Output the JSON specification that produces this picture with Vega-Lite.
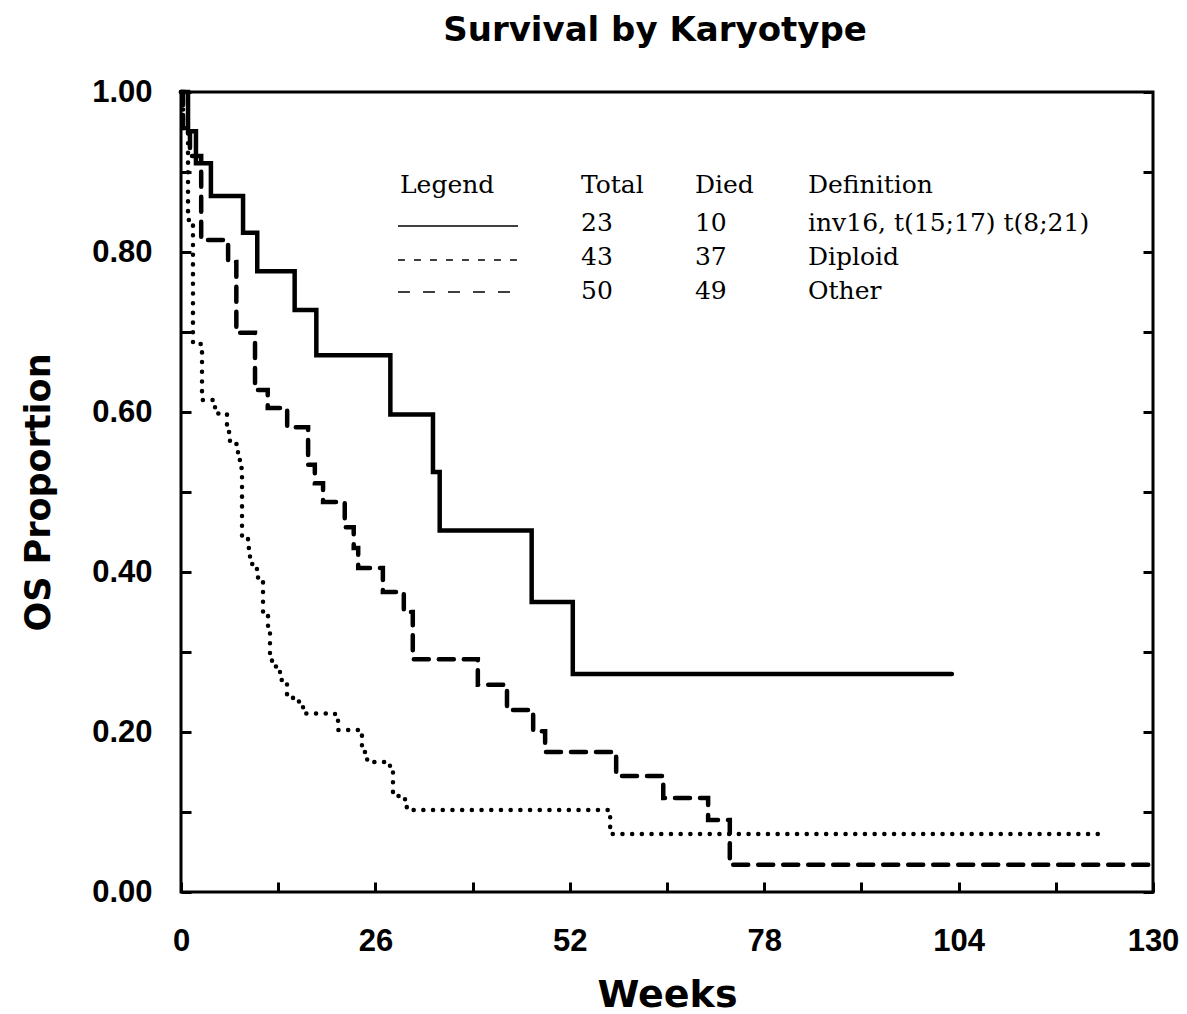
{
  "$schema": "https://vega.github.io/schema/vega-lite/v6.json",
  "width": 972,
  "height": 800,
  "autosize": {"type": "none"},
  "padding": {"left": 181, "top": 92, "right": 34, "bottom": 122},
  "background": "white",
  "title": {
    "text": "Survival by Karyotype",
    "font": "DejaVu Sans",
    "fontWeight": "bold",
    "fontSize": 34,
    "color": "black",
    "anchor": "middle",
    "offset": 28,
    "dx": -12
  },
  "config": {
    "view": {"stroke": "black", "strokeWidth": 3},
    "axis": {
      "grid": false,
      "domain": false,
      "tickColor": "black",
      "tickWidth": 3,
      "labelColor": "black",
      "titleColor": "black",
      "labelFont": "Liberation Sans",
      "labelFontWeight": "bold",
      "labelFontSize": 31,
      "titleFont": "DejaVu Sans",
      "titleFontWeight": "bold"
    },
    "text": {"font": "DejaVu Serif", "fontSize": 25, "color": "black", "align": "left", "baseline": "alphabetic"}
  },
  "datasets": {
    "survival": [
      {"group": "inv16, t(15;17) t(8;21)", "week": 0, "surv": 1.0},
      {"group": "inv16, t(15;17) t(8;21)", "week": 0.94, "surv": 0.951},
      {"group": "inv16, t(15;17) t(8;21)", "week": 2.0, "surv": 0.911},
      {"group": "inv16, t(15;17) t(8;21)", "week": 4.0, "surv": 0.87},
      {"group": "inv16, t(15;17) t(8;21)", "week": 8.3, "surv": 0.824},
      {"group": "inv16, t(15;17) t(8;21)", "week": 10.2, "surv": 0.776},
      {"group": "inv16, t(15;17) t(8;21)", "week": 15.2, "surv": 0.7275},
      {"group": "inv16, t(15;17) t(8;21)", "week": 18.1, "surv": 0.671},
      {"group": "inv16, t(15;17) t(8;21)", "week": 28.0, "surv": 0.597},
      {"group": "inv16, t(15;17) t(8;21)", "week": 33.7, "surv": 0.525},
      {"group": "inv16, t(15;17) t(8;21)", "week": 34.6, "surv": 0.452},
      {"group": "inv16, t(15;17) t(8;21)", "week": 46.9, "surv": 0.3625},
      {"group": "inv16, t(15;17) t(8;21)", "week": 52.4, "surv": 0.2725},
      {"group": "inv16, t(15;17) t(8;21)", "week": 103.1, "surv": 0.2725},

      {"group": "Diploid", "week": 0, "surv": 1.0},
      {"group": "Diploid", "week": 0.27, "surv": 0.955},
      {"group": "Diploid", "week": 0.94, "surv": 0.84},
      {"group": "Diploid", "week": 1.6, "surv": 0.685},
      {"group": "Diploid", "week": 2.81, "surv": 0.615},
      {"group": "Diploid", "week": 4.55, "surv": 0.598},
      {"group": "Diploid", "week": 6.15, "surv": 0.575},
      {"group": "Diploid", "week": 6.55, "surv": 0.56},
      {"group": "Diploid", "week": 7.62, "surv": 0.54},
      {"group": "Diploid", "week": 7.89, "surv": 0.53},
      {"group": "Diploid", "week": 8.16, "surv": 0.445},
      {"group": "Diploid", "week": 8.96, "surv": 0.43},
      {"group": "Diploid", "week": 9.23, "surv": 0.41},
      {"group": "Diploid", "week": 10.16, "surv": 0.393},
      {"group": "Diploid", "week": 10.97, "surv": 0.35},
      {"group": "Diploid", "week": 11.64, "surv": 0.33},
      {"group": "Diploid", "week": 11.9, "surv": 0.296},
      {"group": "Diploid", "week": 12.17, "surv": 0.282},
      {"group": "Diploid", "week": 13.24, "surv": 0.265},
      {"group": "Diploid", "week": 14.18, "surv": 0.245},
      {"group": "Diploid", "week": 14.98, "surv": 0.238},
      {"group": "Diploid", "week": 16.32, "surv": 0.223},
      {"group": "Diploid", "week": 20.6, "surv": 0.215},
      {"group": "Diploid", "week": 21.0, "surv": 0.2025},
      {"group": "Diploid", "week": 24.2, "surv": 0.175},
      {"group": "Diploid", "week": 24.9, "surv": 0.1625},
      {"group": "Diploid", "week": 27.95, "surv": 0.152},
      {"group": "Diploid", "week": 28.35, "surv": 0.125},
      {"group": "Diploid", "week": 29.0, "surv": 0.12},
      {"group": "Diploid", "week": 29.96, "surv": 0.114},
      {"group": "Diploid", "week": 30.2, "surv": 0.1025},
      {"group": "Diploid", "week": 57.4, "surv": 0.0725},
      {"group": "Diploid", "week": 123.2, "surv": 0.0725},

      {"group": "Other", "week": 0, "surv": 1.0},
      {"group": "Other", "week": 0.27, "surv": 0.955},
      {"group": "Other", "week": 1.2, "surv": 0.92},
      {"group": "Other", "week": 2.7, "surv": 0.815},
      {"group": "Other", "week": 6.3, "surv": 0.7875},
      {"group": "Other", "week": 7.4, "surv": 0.699},
      {"group": "Other", "week": 9.9, "surv": 0.6275},
      {"group": "Other", "week": 11.6, "surv": 0.605},
      {"group": "Other", "week": 14.2, "surv": 0.581},
      {"group": "Other", "week": 17.0, "surv": 0.534},
      {"group": "Other", "week": 17.9, "surv": 0.511},
      {"group": "Other", "week": 19.0, "surv": 0.4875},
      {"group": "Other", "week": 21.9, "surv": 0.456},
      {"group": "Other", "week": 23.1, "surv": 0.43},
      {"group": "Other", "week": 23.7, "surv": 0.405},
      {"group": "Other", "week": 27.0, "surv": 0.375},
      {"group": "Other", "week": 29.8, "surv": 0.35},
      {"group": "Other", "week": 31.0, "surv": 0.291},
      {"group": "Other", "week": 39.7, "surv": 0.259},
      {"group": "Other", "week": 43.6, "surv": 0.2275},
      {"group": "Other", "week": 47.1, "surv": 0.201},
      {"group": "Other", "week": 48.7, "surv": 0.175},
      {"group": "Other", "week": 58.2, "surv": 0.145},
      {"group": "Other", "week": 64.5, "surv": 0.1175},
      {"group": "Other", "week": 70.5, "surv": 0.09},
      {"group": "Other", "week": 73.4, "surv": 0.034},
      {"group": "Other", "week": 130, "surv": 0.034}
    ],
    "table": [
      {"legend": "Legend", "total": "Total", "died": "Died", "definition": "Definition"},
      {"legend": "", "total": "23", "died": "10", "definition": "inv16, t(15;17) t(8;21)"},
      {"legend": "", "total": "43", "died": "37", "definition": "Diploid"},
      {"legend": "", "total": "50", "died": "49", "definition": "Other"}
    ]
  },
  "layer": [
    {
      "data": {"name": "survival"},
      "mark": {"type": "line", "interpolate": "step-after", "strokeWidth": 4.5, "color": "black", "strokeCap": "round"},
      "encoding": {
        "x": {
          "field": "week",
          "type": "quantitative",
          "scale": {"domain": [0, 130], "nice": false, "zero": false},
          "axis": {
            "orient": "bottom",
            "values": [0, 13, 26, 39, 52, 65, 78, 91, 104, 117, 130],
            "labelExpr": "datum.value % 26 === 0 ? datum.label : ''",
            "labelFlush": false,
            "labelOverlap": false,
            "tickSize": -10,
            "labelPadding": 44,
            "title": "Weeks",
            "titleFontSize": 38,
            "titlePadding": 20
          }
        },
        "y": {
          "field": "surv",
          "type": "quantitative",
          "scale": {"domain": [0, 1], "nice": false},
          "axis": {
            "orient": "left",
            "values": [0, 0.1, 0.2, 0.3, 0.4, 0.5, 0.6, 0.7, 0.8, 0.9, 1],
            "format": ".2f",
            "labelExpr": "round(datum.value * 10) % 2 === 0 ? datum.label : ''",
            "labelFlush": false,
            "labelOverlap": false,
            "tickSize": -10,
            "labelPadding": 39,
            "title": "OS Proportion",
            "titleFontSize": 35,
            "titlePadding": 35
          }
        },
        "strokeDash": {
          "field": "group",
          "type": "nominal",
          "scale": {
            "domain": ["inv16, t(15;17) t(8;21)", "Diploid", "Other"],
            "range": [[1, 0], [0.1, 9.6], [15, 10]]
          },
          "legend": null
        }
      }
    },
    {
      "data": {"name": "table"},
      "transform": [{"filter": "datum.legend === 'Legend'"}],
      "encoding": {
        "y": {
          "datum": 0.87375,
          "type": "quantitative",
          "axis": {
            "orient": "right",
            "values": [0, 0.1, 0.2, 0.3, 0.4, 0.5, 0.6, 0.7, 0.8, 0.9, 1],
            "labels": false,
            "tickSize": -10,
            "title": null
          }
        }
      },
      "layer": [
        {"mark": "text", "encoding": {"x": {"datum": 29.29, "type": "quantitative", "axis": null}, "text": {"field": "legend"}}},
        {"mark": "text", "encoding": {"x": {"datum": 53.5, "type": "quantitative", "axis": null}, "text": {"field": "total"}}},
        {"mark": "text", "encoding": {"x": {"datum": 68.74, "type": "quantitative", "axis": null}, "text": {"field": "died"}}},
        {"mark": "text", "encoding": {"x": {"datum": 83.86, "type": "quantitative", "axis": null}, "text": {"field": "definition"}}}
      ]
    },
    {
      "data": {"name": "table"},
      "transform": [{"filter": "datum.total === '23'"}],
      "layer": [
        {
          "mark": {"type": "rule", "color": "black", "strokeWidth": 1.5},
          "encoding": {
            "x": {"datum": 29.02, "type": "quantitative", "axis": null},
            "x2": {"datum": 45.07},
            "y": {"datum": 0.8325, "type": "quantitative", "axis": null}
          }
        },
        {
          "encoding": {"y": {"datum": 0.82625, "type": "quantitative", "axis": null}},
          "layer": [
            {"mark": "text", "encoding": {"x": {"datum": 53.5, "type": "quantitative", "axis": null}, "text": {"field": "total"}}},
            {"mark": "text", "encoding": {"x": {"datum": 68.74, "type": "quantitative", "axis": null}, "text": {"field": "died"}}},
            {"mark": "text", "encoding": {"x": {"datum": 83.86, "type": "quantitative", "axis": null}, "text": {"field": "definition"}}}
          ]
        }
      ]
    },
    {
      "data": {"name": "table"},
      "transform": [{"filter": "datum.total === '43'"}],
      "layer": [
        {
          "mark": {"type": "rule", "color": "black", "strokeWidth": 1.5, "strokeDash": [7, 9]},
          "encoding": {
            "x": {"datum": 29.02, "type": "quantitative", "axis": null},
            "x2": {"datum": 45.07},
            "y": {"datum": 0.79, "type": "quantitative", "axis": null}
          }
        },
        {
          "encoding": {"y": {"datum": 0.78375, "type": "quantitative", "axis": null}},
          "layer": [
            {"mark": "text", "encoding": {"x": {"datum": 53.5, "type": "quantitative", "axis": null}, "text": {"field": "total"}}},
            {"mark": "text", "encoding": {"x": {"datum": 68.74, "type": "quantitative", "axis": null}, "text": {"field": "died"}}},
            {"mark": "text", "encoding": {"x": {"datum": 83.86, "type": "quantitative", "axis": null}, "text": {"field": "definition"}}}
          ]
        }
      ]
    },
    {
      "data": {"name": "table"},
      "transform": [{"filter": "datum.total === '50'"}],
      "layer": [
        {
          "mark": {"type": "rule", "color": "black", "strokeWidth": 1.5, "strokeDash": [12, 13]},
          "encoding": {
            "x": {"datum": 29.02, "type": "quantitative", "axis": null},
            "x2": {"datum": 45.07},
            "y": {"datum": 0.75, "type": "quantitative", "axis": null}
          }
        },
        {
          "encoding": {"y": {"datum": 0.74125, "type": "quantitative", "axis": null}},
          "layer": [
            {"mark": "text", "encoding": {"x": {"datum": 53.5, "type": "quantitative", "axis": null}, "text": {"field": "total"}}},
            {"mark": "text", "encoding": {"x": {"datum": 68.74, "type": "quantitative", "axis": null}, "text": {"field": "died"}}},
            {"mark": "text", "encoding": {"x": {"datum": 83.86, "type": "quantitative", "axis": null}, "text": {"field": "definition"}}}
          ]
        }
      ]
    }
  ],
  "resolve": {"axis": {"x": "independent", "y": "independent"}}
}
